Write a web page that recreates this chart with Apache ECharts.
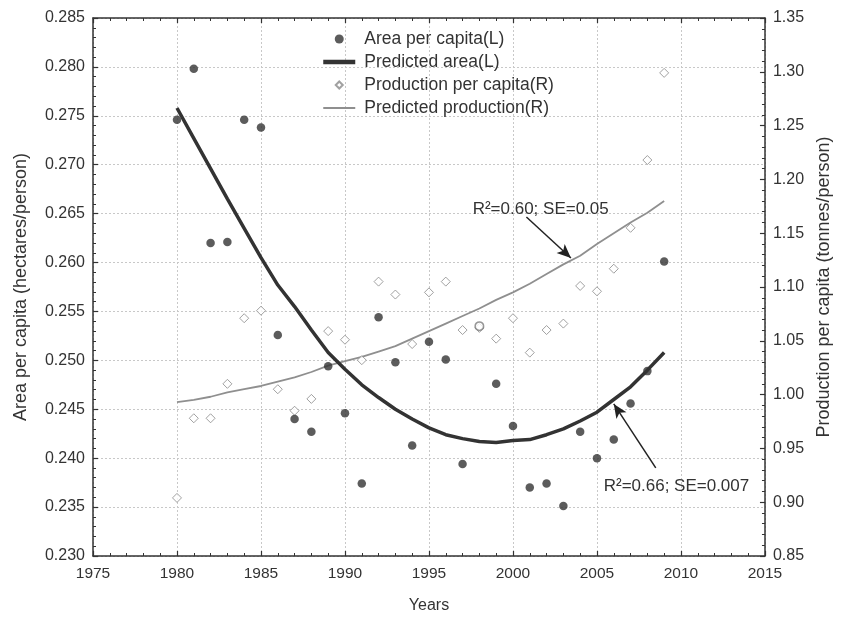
<!DOCTYPE html>
<html>
<head>
<meta charset="utf-8">
<script src="https://cdn.jsdelivr.net/npm/echarts@6/dist/echarts.min.js"></script>
<style>
  html, body { margin: 0; padding: 0; background: #fff; }
  #chart { width: 841px; height: 619px; }
</style>
</head>
<body>
<div id="chart"></div>
<script>
const years = [1980, 1981, 1982, 1983, 1984, 1985, 1986, 1987, 1988, 1989,
  1990, 1991, 1992, 1993, 1994, 1995, 1996, 1997, 1998, 1999,
  2000, 2001, 2002, 2003, 2004, 2005, 2006, 2007, 2008, 2009]

const areaPerCapita = [0.2746, 0.2798, 0.2620, 0.2621, 0.2746, 0.2738, 0.2526, 0.2440, 0.2427, 0.2494,
  0.2446, 0.2374, 0.2544, 0.2498, 0.2413, 0.2519, 0.2501, 0.2394, 0.2535, 0.2476,
  0.2433, 0.2370, 0.2374, 0.2351, 0.2427, 0.2400, 0.2419, 0.2456, 0.2489, 0.2601]

const predictedArea = [0.2758, 0.2727, 0.2696, 0.2665, 0.2635, 0.2605, 0.2577, 0.2555, 0.2531, 0.2508,
  0.2491, 0.2475, 0.2462, 0.2450, 0.2440, 0.2431, 0.2424, 0.2420, 0.2417, 0.2416,
  0.2418, 0.2419, 0.2424, 0.2430, 0.2438, 0.2447, 0.2460, 0.2473, 0.2490, 0.2508]

const productionPerCapita = [0.904, 0.978, 0.978, 1.010, 1.071, 1.078, 1.005, 0.985, 0.996, 1.059,
  1.051, 1.032, 1.105, 1.093, 1.047, 1.095, 1.105, 1.060, 1.062, 1.052,
  1.071, 1.039, 1.060, 1.066, 1.101, 1.096, 1.117, 1.155, 1.218, 1.299]

const predictedProduction = [0.993, 0.995, 0.998, 1.002, 1.005, 1.008, 1.012, 1.016, 1.021, 1.027,
  1.031, 1.035, 1.040, 1.045, 1.052, 1.059, 1.066, 1.073, 1.080, 1.088,
  1.095, 1.103, 1.112, 1.121, 1.129, 1.140, 1.150, 1.160, 1.169, 1.180]

const xTicks = { min: 1975, max: 2015, step: 5 }
const leftTicks = { min: 0.230, max: 0.285, step: 0.005 }
const rightTicks = { min: 0.85, max: 1.35, step: 0.05 }

const notes = {
  production: { text: 'R²=0.60; SE=0.05', at: [1997.6, 1.172], arrow: [[2000.8, 1.165], [2003.45, 1.127]] },
  area: { text: 'R²=0.66; SE=0.007', at: [2005.4, 0.2371], arrow: [[2008.5, 0.2390], [2006.0, 0.24555]] }
}
// the 1998 area point shows up as a hollow ring in the original
const hollowYear = 1998

const FONT = 'Liberation Sans, Arial, sans-serif'
const TXT = '#333'
const AXIS = '#333'
const GRID = { color: '#c8c8c8', type: [2, 2], width: 1 }

const chart = echarts.init(document.getElementById('chart'), null, { renderer: 'canvas' })

const tickStyle = () => ({
  axisLine: { show: true, onZero: false, lineStyle: { color: AXIS, width: 1.5 } },
  axisTick: { show: true, inside: true, length: 5, lineStyle: { color: AXIS, width: 1.2 } },
  minorTick: { show: true, splitNumber: 5, length: 3, lineStyle: { color: AXIS, width: 1 } }
})

const noteSeries = (n) => ({
  markLine: {
    silent: true,
    symbol: ['none', 'arrow'],
    symbolSize: [9, 14],
    label: { show: false },
    lineStyle: { color: '#222', width: 1.5, type: 'solid' },
    emphasis: { disabled: true },
    data: [[{ coord: n.arrow[0] }, { coord: n.arrow[1] }]]
  },
  markPoint: {
    silent: true,
    symbol: 'circle',
    symbolSize: 0,
    label: {
      show: true, position: 'right', distance: 0,
      formatter: n.text, color: TXT, fontSize: 17, fontFamily: FONT
    },
    data: [{ coord: n.at }]
  }
})

const hiddenSymbol = { color: 'transparent', borderColor: 'transparent', borderWidth: 0 }
// small diamond centred in the 32x9 legend cell (corner moves keep it from stretching)
const legendDiamond = 'path://M0,0M32,9M16,1L19.5,4.5L16,8L12.5,4.5Z'

const option = {
  animation: false,
  backgroundColor: '#fff',
  textStyle: { fontFamily: FONT },
  grid: { left: 93, right: 76, top: 18, bottom: 62 },
  legend: {
    orient: 'vertical',
    left: 321,
    top: 30,
    padding: 0,
    itemWidth: 32,
    itemHeight: 9,
    itemGap: 5,
    textStyle: { color: TXT, fontSize: 17.5, lineHeight: 18, fontFamily: FONT, padding: [0, 0, 0, 4] },
    data: [
      { name: 'Area per capita(L)' },
      { name: 'Predicted area(L)', itemStyle: hiddenSymbol, lineStyle: { width: 4.5, color: '#333' } },
      { name: 'Production per capita(R)', icon: legendDiamond },
      { name: 'Predicted production(R)', itemStyle: hiddenSymbol, lineStyle: { width: 2, color: '#8f8f8f' } }
    ]
  },
  xAxis: [
    {
      type: 'value',
      min: xTicks.min, max: xTicks.max, interval: xTicks.step,
      name: 'Years', nameLocation: 'middle', nameGap: 42,
      nameTextStyle: { color: TXT, fontSize: 16, fontFamily: FONT },
      ...tickStyle(),
      axisLabel: { color: TXT, fontSize: 15.5, margin: 10, fontFamily: FONT, formatter: v => String(v) },
      splitLine: { show: true, lineStyle: GRID }
    },
    {
      type: 'value', position: 'top',
      min: xTicks.min, max: xTicks.max, interval: xTicks.step,
      ...tickStyle(),
      axisLabel: { show: false },
      splitLine: { show: false }
    }
  ],
  yAxis: [
    {
      type: 'value', position: 'left',
      min: leftTicks.min, max: leftTicks.max, interval: leftTicks.step,
      name: 'Area per capita (hectares/person)', nameLocation: 'middle', nameGap: 63,
      nameTextStyle: { color: TXT, fontSize: 18, fontFamily: FONT },
      ...tickStyle(),
      axisLabel: { color: TXT, fontSize: 16, margin: 8, fontFamily: FONT, formatter: v => v.toFixed(3) },
      splitLine: { show: true, lineStyle: GRID }
    },
    {
      type: 'value', position: 'right',
      min: rightTicks.min, max: rightTicks.max, interval: rightTicks.step,
      name: 'Production per capita (tonnes/person)', nameLocation: 'middle', nameGap: 48,
      nameTextStyle: { color: TXT, fontSize: 18, fontFamily: FONT },
      ...tickStyle(),
      axisLabel: { color: TXT, fontSize: 16, margin: 8, fontFamily: FONT, formatter: v => v.toFixed(2) },
      splitLine: { show: false }
    }
  ],
  series: [
    {
      name: 'Predicted production(R)',
      type: 'line',
      yAxisIndex: 1,
      symbol: 'none',
      lineStyle: { color: '#8f8f8f', width: 1.8 },
      itemStyle: { color: '#8f8f8f' },
      z: 2,
      data: years.map((y, i) => [y, predictedProduction[i]]),
      ...noteSeries(notes.production)
    },
    {
      name: 'Production per capita(R)',
      type: 'scatter',
      yAxisIndex: 1,
      symbol: 'diamond',
      symbolSize: 9,
      itemStyle: { color: '#fff', borderColor: '#8a8a8a', borderWidth: 1 },
      z: 3,
      data: years.map((y, i) => [y, productionPerCapita[i]])
    },
    {
      name: 'Predicted area(L)',
      type: 'line',
      yAxisIndex: 0,
      symbol: 'none',
      lineStyle: { color: '#333', width: 3.5 },
      itemStyle: { color: '#333' },
      z: 4,
      data: years.map((y, i) => [y, predictedArea[i]]),
      ...noteSeries(notes.area)
    },
    {
      name: 'Area per capita(L)',
      type: 'scatter',
      yAxisIndex: 0,
      symbol: 'circle',
      symbolSize: 8.5,
      itemStyle: { color: '#333' },
      z: 5,
      data: years.map((y, i) => y === hollowYear
        ? { value: [y, areaPerCapita[i]], itemStyle: { color: '#fff', borderColor: '#7d7d7d', borderWidth: 1.5 } }
        : [y, areaPerCapita[i]])
    }
  ]
}

chart.setOption(option)
</script>
</body>
</html>
